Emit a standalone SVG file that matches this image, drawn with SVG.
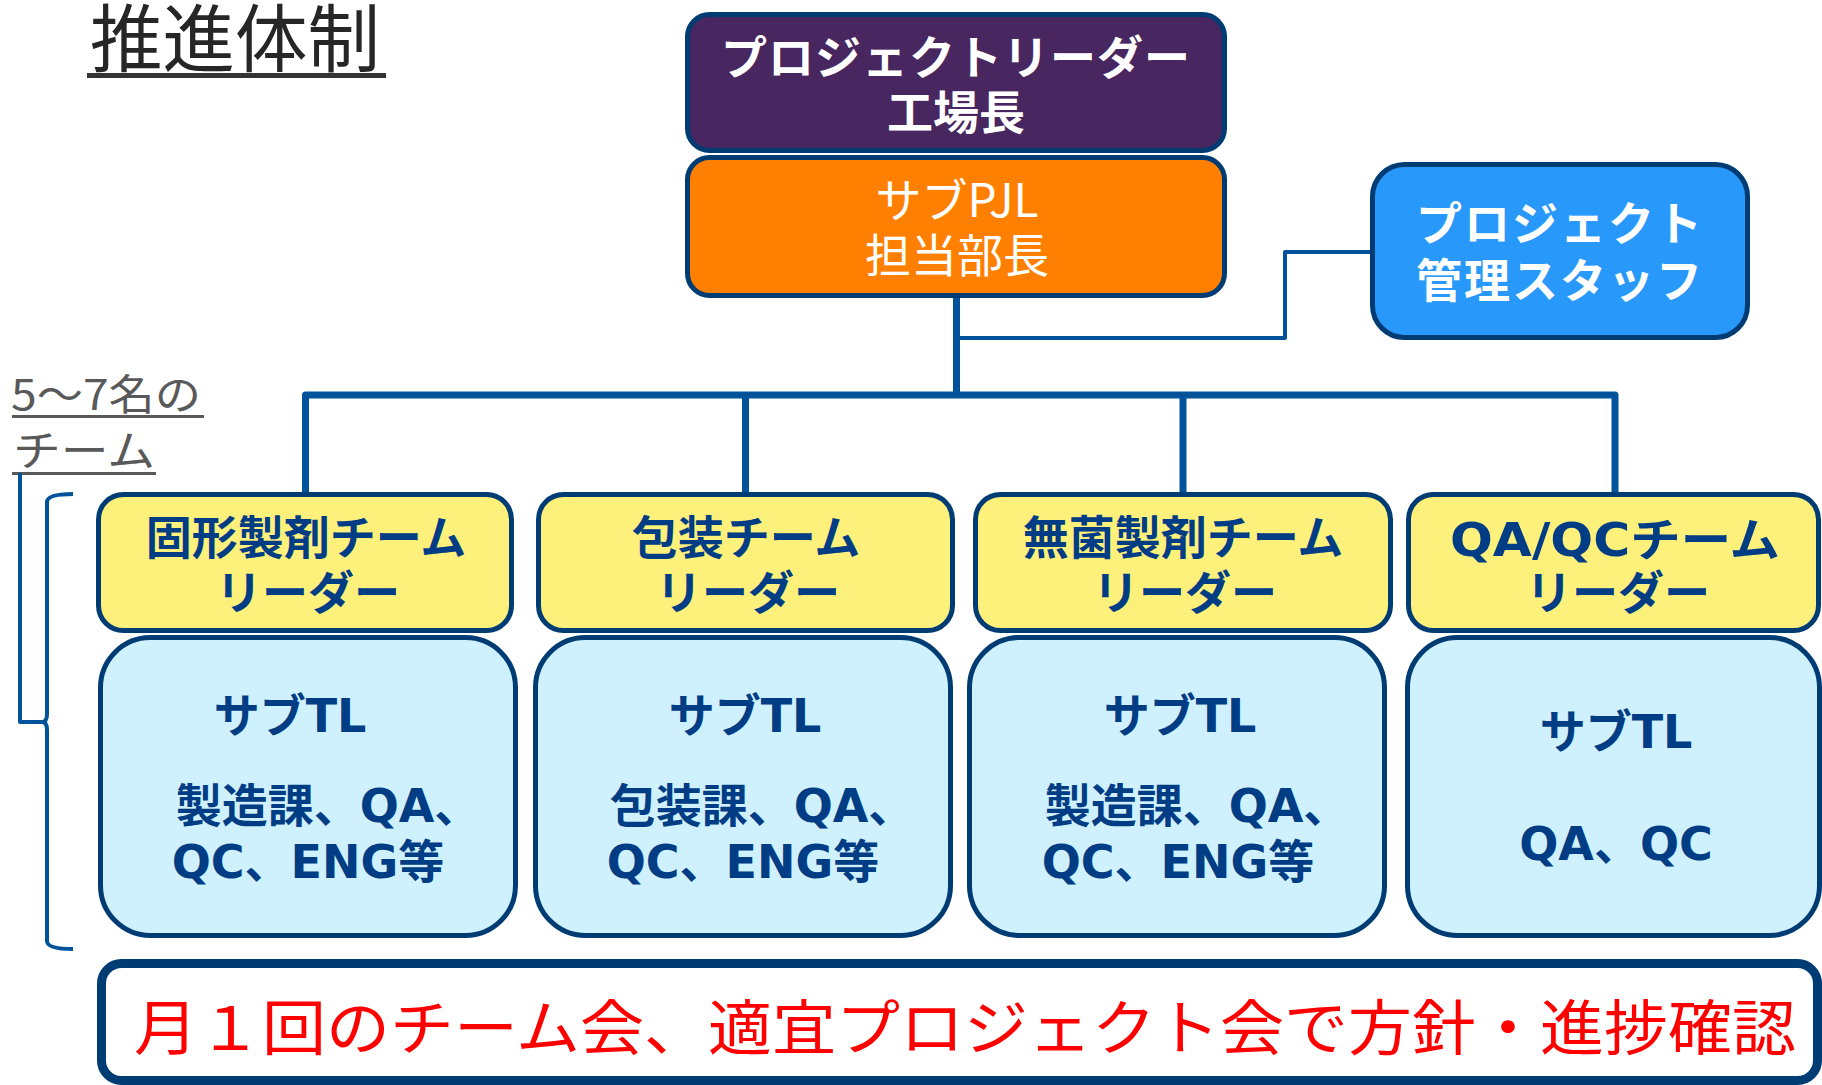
<svg xmlns="http://www.w3.org/2000/svg" width="1822" height="1085" viewBox="0 0 1822 1085">
<style>
.jp{font-family:"Noto Sans CJK JP","Noto Sans",sans-serif;}
.lat{font-family:"DejaVu Sans","Noto Sans CJK JP",sans-serif;}
.box{stroke:#003c74;stroke-width:5;}
.lead{fill:#fdf07b;}
.sub{fill:#cff1fe;}
.nv{fill:#003d85;font-weight:700;font-size:46px;text-anchor:middle;}
.wh{fill:#ffffff;text-anchor:middle;font-size:46px;}
.conn{fill:none;stroke:#00529b;stroke-linejoin:round;}
</style>
<rect width="1822" height="1085" fill="#ffffff"/>

<g id="title">
<text class="jp" x="90" y="66" font-size="74" fill="#262626" textLength="290" lengthAdjust="spacingAndGlyphs">推進体制</text>
<rect x="87" y="73" width="299" height="5" fill="#333333"/>
</g>

<g id="team-label">
<text class="jp" x="11" y="410" font-size="42" fill="#595959" textLength="190" lengthAdjust="spacingAndGlyphs">5〜7名の</text>
<rect x="12" y="415" width="192" height="3" fill="#595959"/>
<text class="jp" x="13" y="466" font-size="42" fill="#595959" textLength="142" lengthAdjust="spacingAndGlyphs">チーム</text>
<rect x="12" y="472" width="144" height="3" fill="#595959"/>
</g>

<g id="connectors">
<path class="conn" stroke-width="7" d="M956.5,298 V395"/>
<path class="conn" stroke-width="7" d="M305.5,492 V395 H1615 V492"/>
<path class="conn" stroke-width="7" d="M745.5,395 V492"/>
<path class="conn" stroke-width="7" d="M1183,395 V492"/>
<path class="conn" stroke-width="4" d="M956.5,338 H1285 V252 H1372"/>
<path class="conn" stroke-width="4" d="M20,473 V722 H46"/>
<path class="conn" stroke-width="4" d="M73,494 Q47,494 47,502 V714 Q47,722 42,722 Q47,722 47,730 V941 Q47,949 73,949"/>
</g>

<g id="project-leader">
<rect class="box" x="687.5" y="14.5" width="537" height="136" rx="22" fill="#48265f"/>
<text class="jp wh" font-weight="700"><tspan x="956" y="74" letter-spacing="1">プロジェクトリーダー</tspan><tspan x="956" y="129">工場長</tspan></text>
</g>

<g id="sub-pjl">
<rect class="box" x="687.5" y="157.5" width="537" height="138" rx="22" fill="#ff7f00"/>
<text class="jp wh"><tspan x="957" y="217">サブPJL</tspan><tspan x="957" y="272">担当部長</tspan></text>
</g>

<g id="pm-staff">
<rect class="box" x="1372.5" y="164.5" width="375" height="173" rx="32" fill="#2899fb"/>
<text class="jp wh" font-size="44" font-weight="700" letter-spacing="2"><tspan x="1560" y="240">プロジェクト</tspan><tspan x="1560" y="297">管理スタッフ</tspan></text>
</g>

<g id="team1">
<rect class="box lead" x="98.5" y="494.5" width="413" height="136" rx="25"/>
<text class="lat nv"><tspan x="306" y="554">固形製剤チーム</tspan><tspan x="308" y="609">リーダー</tspan></text>
<rect class="box sub" x="100.5" y="637.5" width="415" height="298" rx="50"/>
<text class="lat nv" x="290" y="732">サブTL</text>
<text class="lat nv"><tspan x="328" y="822">製造課、QA、</tspan><tspan x="308" y="878">QC、ENG等</tspan></text>
</g>

<g id="team2">
<rect class="box lead" x="538.5" y="494.5" width="414" height="136" rx="25"/>
<text class="lat nv"><tspan x="746" y="554">包装チーム</tspan><tspan x="748" y="609">リーダー</tspan></text>
<rect class="box sub" x="535.5" y="637.5" width="415" height="298" rx="50"/>
<text class="lat nv" x="745" y="732">サブTL</text>
<text class="lat nv"><tspan x="762" y="822">包装課、QA、</tspan><tspan x="743" y="878">QC、ENG等</tspan></text>
</g>

<g id="team3">
<rect class="box lead" x="975.5" y="494.5" width="415" height="136" rx="25"/>
<text class="lat nv"><tspan x="1183" y="554">無菌製剤チーム</tspan><tspan x="1185" y="609">リーダー</tspan></text>
<rect class="box sub" x="969.5" y="637.5" width="415" height="298" rx="50"/>
<text class="lat nv" x="1180" y="732">サブTL</text>
<text class="lat nv"><tspan x="1197" y="822">製造課、QA、</tspan><tspan x="1178" y="878">QC、ENG等</tspan></text>
</g>

<g id="team4">
<rect class="box lead" x="1408.5" y="494.5" width="410" height="136" rx="25"/>
<text class="lat nv"><tspan x="1615" y="556" textLength="330" lengthAdjust="spacingAndGlyphs">QA/QCチーム</tspan><tspan x="1618" y="609">リーダー</tspan></text>
<rect class="box sub" x="1407.5" y="637.5" width="412" height="298" rx="50"/>
<text class="lat nv" x="1616" y="748">サブTL</text>
<text class="lat nv" x="1616" y="860">QA、QC</text>
</g>

<g id="meeting-note">
<rect x="101.5" y="963.5" width="1716" height="117" rx="20" fill="#ffffff" stroke="#003c74" stroke-width="9"/>
<text class="jp" x="134" y="1050" font-size="60" fill="#ff0000" textLength="1662" lengthAdjust="spacingAndGlyphs">月１回のチーム会、適宜プロジェクト会で方針・進捗確認</text>
</g>
</svg>
